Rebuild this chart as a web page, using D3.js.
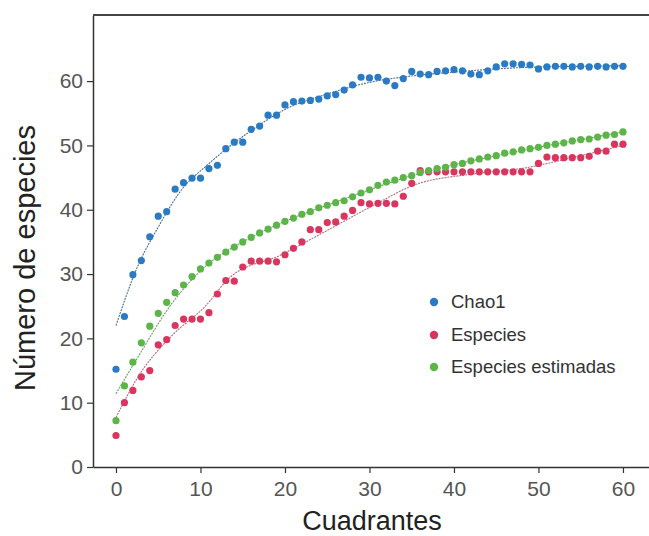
<!DOCTYPE html>
<html>
<head>
<meta charset="utf-8">
<script src="https://d3js.org/d3.v7.min.js"></script>
<style>
  body { margin: 0; background: #fff; }
  .tick text { font-family: "Liberation Sans Narrow", "Liberation Sans", sans-serif; }
</style>
</head>
<body>
<script>
// quadrants 0..60
const cuadrantes = d3.range(0, 61);

const chao1 = [15.2, 23.4, 29.9, 32.1, 35.8, 39, 39.7, 43.2, 44.2, 44.9,
  44.9, 46.4, 46.9, 49.5, 50.5, 50.5, 52.5, 53, 54.7, 54.7,
  56.3, 56.8, 56.9, 57, 57.2, 57.7, 57.9, 58.6, 59.4, 60.6,
  60.5, 60.6, 60, 59.3, 60.4, 61.5, 61.1, 61, 61.5, 61.6,
  61.8, 61.6, 61.1, 61, 61.6, 62.2, 62.7, 62.7, 62.6, 62.5,
  61.9, 62.2, 62.3, 62.3, 62.2, 62.3, 62.2, 62.3, 62.2, 62.3, 62.3];

const especies = [4.9, 10, 11.9, 14, 15, 19, 19.8, 22, 23, 23,
  23, 24, 26.9, 29, 28.9, 31.1, 32, 32, 32, 31.9,
  33, 34, 35, 36.9, 36.9, 38, 38.1, 39, 39.9, 41.1,
  40.9, 41, 41, 40.9, 42.1, 44.1, 46.1, 45.9, 45.9, 45.9,
  45.9, 45.9, 45.9, 45.9, 45.9, 45.9, 45.9, 45.9, 45.9, 45.9,
  47.2, 48.2, 48.1, 48.1, 48.1, 48.1, 48.3, 49.1, 49.1, 50.2, 50.2];

const estimadas = [7.2, 12.6, 16.3, 19.3, 21.9, 23.9, 25.6, 27.1, 28.3, 29.6,
  30.8, 31.7, 32.6, 33.4, 34.2, 35.0, 35.7, 36.4, 37.0, 37.6,
  38.2, 38.7, 39.3, 39.7, 40.3, 40.7, 41.1, 41.4, 42.0, 42.6,
  43.1, 43.8, 44.3, 44.6, 45.0, 45.3, 45.8, 46.1, 46.4, 46.6,
  47.0, 47.2, 47.6, 47.9, 48.2, 48.4, 48.8, 49.0, 49.3, 49.5,
  49.7, 50.0, 50.2, 50.4, 50.7, 50.9, 51.0, 51.3, 51.6, 51.7, 52.1];

// fitted trend lines
const chaoFitX = [0, 2.5, 5, 8, 10.5, 13.3, 16, 20, 25, 30, 35, 40, 45, 50, 55, 60];
const chaoFitY = [22, 31, 37.3, 43.5, 46.6, 49.7, 52.3, 55.6, 58, 59.8, 60.8, 61.4, 61.9, 62.2, 62.3, 62.4];
const espFitX = [0, 2.6, 6.6, 10.5, 13.5, 19.4, 25.3, 31.2, 35.2, 42.5, 48.4, 54.3, 60];
const espFitY = [7.7, 14, 20.4, 24.9, 29.5, 32.9, 37, 41.2, 43.8, 45.6, 46.5, 48.2, 50];
const estFitX = [0, 2.6, 6.6, 10.5, 15, 20, 25, 30, 35, 40, 45, 50, 55, 60];
const estFitY = [11.4, 17.1, 25.4, 31.1, 35, 38.2, 40.7, 43.1, 45.3, 47, 48.4, 49.7, 50.9, 52.1];

const xTicks = [0, 10, 20, 30, 40, 50, 60];
const yTicks = [0, 10, 20, 30, 40, 50, 60];
const serieNames = ["Chao1", "Especies", "Especies estimadas"];

const colors = ["#2a7bc4", "#d9365f", "#5cb548"];
const lineColors = ["#4d6f96", "#b76a7e", "#6e9c63"];

const width = 649, height = 536;
const svg = d3.select("body").append("svg")
  .attr("width", width)
  .attr("height", height);

const xScale = d3.scaleLinear().domain([-2.72, 63.08]).range([93, 649]);
const yScale = d3.scaleLinear().domain([0, 70.2]).range([467, 15.5]);

// top frame line
svg.append("line")
  .attr("x1", 93).attr("x2", 649)
  .attr("y1", 15).attr("y2", 15)
  .attr("stroke", "#444").attr("stroke-width", 2);

const xAxis = svg.append("g")
  .attr("transform", "translate(0,467)")
  .call(d3.axisBottom(xScale).tickValues(xTicks).tickSize(6).tickSizeOuter(0));
xAxis.select(".domain").attr("stroke", "#333").attr("stroke-width", 1.5);
xAxis.selectAll(".tick line").attr("stroke", "#333").attr("stroke-width", 1.2);
xAxis.selectAll(".tick text").attr("font-size", 21).attr("fill", "#555").attr("dy", "0.95em");

const yAxis = svg.append("g")
  .attr("transform", "translate(93,0)")
  .call(d3.axisLeft(yScale).tickValues(yTicks).tickSize(6).tickSizeOuter(0));
yAxis.select(".domain").attr("stroke", "#333").attr("stroke-width", 1.5);
yAxis.selectAll(".tick line").attr("stroke", "#333").attr("stroke-width", 1.2);
yAxis.selectAll(".tick text").attr("font-size", 21).attr("fill", "#555").attr("x", -10);

// titles
svg.append("text")
  .attr("x", 372).attr("y", 530)
  .attr("text-anchor", "middle")
  .attr("font-family", "Liberation Sans, Arial, sans-serif")
  .attr("font-size", 27).attr("fill", "#222")
  .text("Cuadrantes");

svg.append("text")
  .attr("transform", "translate(35,258) rotate(-90)")
  .attr("text-anchor", "middle")
  .attr("font-family", "Liberation Sans, Arial, sans-serif")
  .attr("font-size", 29).attr("fill", "#222")
  .text("Número de especies");

// trend lines
const line = d3.line()
  .x(d => xScale(d[0]))
  .y(d => yScale(d[1]))
  .curve(d3.curveMonotoneX);

const fits = [
  d3.zip(chaoFitX, chaoFitY),
  d3.zip(espFitX, espFitY),
  d3.zip(estFitX, estFitY)
];
fits.forEach(function(f, i) {
  svg.append("path")
    .datum(f)
    .attr("d", line)
    .attr("fill", "none")
    .attr("stroke", lineColors[i])
    .attr("stroke-width", 1.1)
    .attr("stroke-dasharray", "2,1");
});

// points
const series = [chao1, especies, estimadas];
series.forEach(function(vals, i) {
  svg.append("g").selectAll("circle")
    .data(vals)
    .join("circle")
    .attr("cx", (d, j) => xScale(cuadrantes[j]))
    .attr("cy", d => yScale(d))
    .attr("r", 3.6)
    .attr("fill", colors[i]);
});

// legend
const legend = svg.append("g");
serieNames.forEach(function(name, i) {
  const yy = [302, 335, 367][i];
  legend.append("circle")
    .attr("cx", 434).attr("cy", yy)
    .attr("r", 4.2)
    .attr("fill", colors[i]);
  legend.append("text")
    .attr("x", 451).attr("y", yy + 6)
    .attr("font-family", "Liberation Sans, Arial, sans-serif")
    .attr("font-size", 18.5).attr("fill", "#333")
    .text(name);
});
</script>
</body>
</html>
